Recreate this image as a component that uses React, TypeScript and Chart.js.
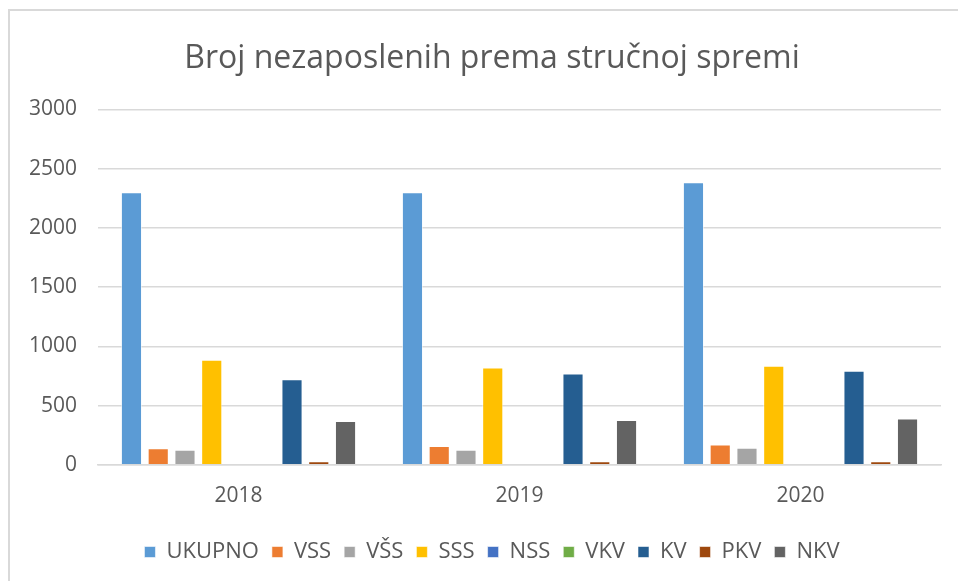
import React, { useEffect, useRef } from "react";
import { Chart, registerables } from "chart.js";

Chart.register(...registerables);

const TITLE = "Broj nezaposlenih prema stručnoj spremi";
const years = ["2018", "2019", "2020"];
const seriesNames = ["UKUPNO", "VSS", "VŠS", "SSS", "NSS", "VKV", "KV", "PKV", "NKV"];
const ukupno = [2300, 2300, 2385];
const vss = [140, 158, 172];
const vss2 = [127, 127, 144];
const sss = [887, 822, 836];
const nss = [0, 0, 0];
const vkv = [0, 0, 0];
const kv = [723, 771, 794];
const pkv = [31, 31, 31];
const nkv = [370, 379, 390];
const yTicks = [0, 500, 1000, 1500, 2000, 2500, 3000];
const colors = ["#5B9BD5", "#ED7D31", "#A5A5A5", "#FFC000", "#4472C4", "#70AD47", "#255E91", "#9E480E", "#636363"];

const FONT = "'Open Sans', 'Liberation Sans', sans-serif";
const TEXT = "#595959";
const GRID = "#d9d9d9";

const framePlugin = {
  id: "frame",
  beforeDraw(chart: any) {
    const ctx = chart.ctx;
    ctx.save();
    ctx.fillStyle = "#ffffff";
    ctx.fillRect(0, 0, chart.width, chart.height);
    ctx.strokeStyle = GRID;
    ctx.lineWidth = 2;
    ctx.beginPath();
    ctx.moveTo(9, chart.height);
    ctx.lineTo(9, 10);
    ctx.lineTo(chart.width, 10);
    ctx.stroke();
    ctx.restore();
  },
};

export default function App() {
  const ref = useRef<HTMLCanvasElement | null>(null);
  useEffect(() => {
    if (!ref.current) return;
    const all = [ukupno, vss, vss2, sss, nss, vkv, kv, pkv, nkv];
    const chart = new Chart(ref.current, {
      type: "bar",
      data: {
        labels: years,
        datasets: seriesNames.map((name, i) => ({
          label: name,
          data: all[i],
          backgroundColor: colors[i],
          borderColor: "rgba(255,255,255,0.55)",
          borderWidth: 1,
          categoryPercentage: 0.857,
          barPercentage: 0.79,
        })),
      },
      options: {
        animation: false,
        responsive: false,
        maintainAspectRatio: false,
        layout: { padding: { left: 43, right: 17, top: 0, bottom: 8 } },
        plugins: {
          title: {
            display: true,
            text: TITLE,
            color: TEXT,
            font: { family: FONT, size: 32, weight: "normal" },
            padding: { top: 40, bottom: 31 },
          },
          legend: {
            position: "bottom",
            labels: {
              color: TEXT,
              font: { family: FONT, size: 22 },
              boxWidth: 11,
              boxHeight: 11,
              padding: 13,
            },
          },
          tooltip: { enabled: false },
        },
        scales: {
          x: {
            grid: { display: false, drawTicks: false },
            border: { display: true, color: GRID, width: 1.5 },
            ticks: { color: TEXT, font: { family: FONT, size: 21 }, padding: 19 },
          },
          y: {
            min: 0,
            max: 3000,
            afterFit(axis: any) {
              axis.width = 55;
              axis._computeLabelArea = () => undefined;
            },
            afterBuildTicks(axis: any) {
              axis.ticks = yTicks.map((v) => ({ value: v }));
            },
            grid: { color: GRID, lineWidth: 1.5, drawTicks: false },
            border: { display: false },
            ticks: {
              color: TEXT,
              font: { family: FONT, size: 21 },
              padding: 21,
              callback: (v: any) => String(v),
            },
          },
        },
      },
      plugins: [framePlugin],
    });
    return () => chart.destroy();
  }, []);
  return (
    <div style={{ position: "fixed", left: 0, top: 0, width: 958, height: 581 }}>
      <canvas ref={ref} width={958} height={581} style={{ width: 958, height: 581 }} />
    </div>
  );
}
